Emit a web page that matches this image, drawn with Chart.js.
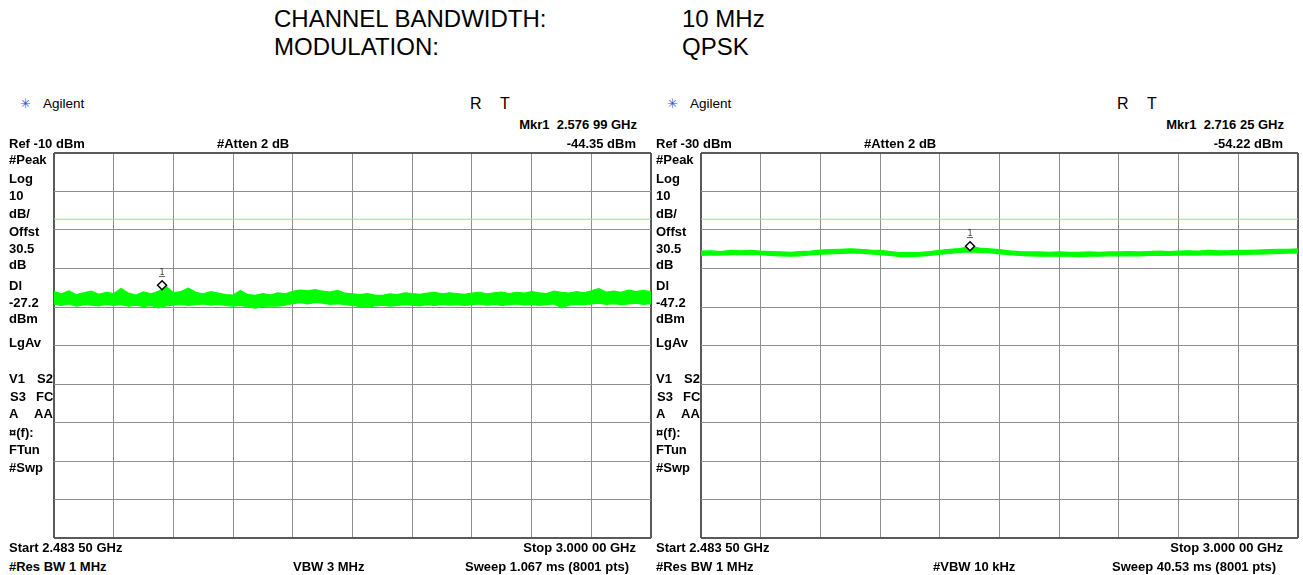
<!DOCTYPE html>
<html>
<head>
<meta charset="utf-8">
<script src="https://cdn.jsdelivr.net/npm/chart.js@4/dist/chart.umd.min.js"></script>
<style>
  html, body { margin: 0; padding: 0; background: #fff; }
  #page { position: relative; width: 1303px; height: 575px; overflow: hidden; font-family: "Liberation Sans", Arial, sans-serif; }
  .t { position: absolute; white-space: pre; font-weight: bold; font-size: 13px; line-height: 14px; color: #000; }
  .r { text-align: right; }
  .hdr { position: absolute; white-space: pre; font-size: 24px; line-height: 26px; color: #000; }
  .brand { position: absolute; white-space: pre; font-size: 13.5px; line-height: 14px; color: #000; }
  .star { position: absolute; font-family: "DejaVu Sans", sans-serif; font-size: 13px; line-height: 14px; color: #2f56d8; }
  .rt { position: absolute; white-space: pre; font-size: 16px; line-height: 16px; color: #000; }
  canvas { position: absolute; }
</style>
</head>
<body>
<div id="page">
  <div class="hdr" style="left:274px;top:6px">CHANNEL BANDWIDTH:</div>
  <div class="hdr" style="left:682px;top:6px">10 MHz</div>
  <div class="hdr" style="left:274px;top:34px">MODULATION:</div>
  <div class="hdr" style="left:682px;top:34px">QPSK</div>
  <canvas id="left" width="604" height="391" style="left:50px;top:150px"></canvas>
  <canvas id="right" width="604" height="391" style="left:697px;top:150px"></canvas>
</div>
<script>
"use strict";

// sweep settings, both screens
const START_GHZ = 2.4835;
const STOP_GHZ = 3.0;

// left screen: VBW 3 MHz, noisy trace (upper / lower edges of the trace band, dBm)
const leftRef = -10;
const leftDisplayLine = -27.2;
const leftMarker = { f: 2.57699, v: -44.35 };
const leftUpper = [
  -46.0, -46.6, -45.8, -46.8, -46.3, -45.9, -46.7, -46.2,
  -46.5, -45.2, -46.4, -46.9, -46.1, -46.6, -45.9, -44.6,
  -46.3, -46.0, -45.1, -46.2, -46.6, -46.0, -46.4, -46.8,
  -46.9, -45.7, -46.8, -47.0, -46.5, -46.9, -46.3, -46.6,
  -45.9, -45.6, -45.8, -45.5, -45.9, -46.1, -45.7, -46.4,
  -46.6, -46.8, -46.5, -46.9, -47.0, -46.6, -46.8, -46.3,
  -46.5, -46.7, -46.4, -46.2, -46.6, -46.3, -46.5, -46.7,
  -46.4, -46.2, -46.6, -46.3, -46.1, -46.5, -46.2, -46.4,
  -46.0, -46.3, -46.5, -45.9, -46.2, -46.4, -46.0, -46.3,
  -45.8, -45.2, -46.1, -45.9, -46.2, -45.6, -46.0, -45.7, -46.1,
];
const leftLower = [
  -49.3, -49.6, -49.2, -49.8, -49.4, -49.5, -49.7, -49.3,
  -49.6, -49.4, -49.8, -49.5, -49.9, -49.6, -50.2, -49.7,
  -49.5, -49.3, -49.6, -49.4, -49.2, -49.5, -49.3, -49.6,
  -49.8, -49.6, -50.0, -50.3, -49.9, -49.7, -49.8, -49.5,
  -49.1, -48.9, -49.2, -48.8, -49.0, -49.3, -49.1, -49.4,
  -49.6, -49.9, -50.1, -49.7, -49.5, -49.8, -49.6, -49.4,
  -49.5, -49.7, -49.4, -49.6, -49.3, -49.5, -49.4, -49.6,
  -49.4, -49.2, -49.5, -49.3, -49.6, -49.4, -49.2, -49.5,
  -49.3, -49.6, -49.4, -49.2, -50.2, -49.5, -49.3, -49.4,
  -49.2, -49.0, -49.3, -49.1, -49.4, -49.2, -49.0, -49.3, -49.1,
];

// right screen: VBW 10 kHz, smooth trace
const rightRef = -30;
const rightDisplayLine = -47.2;
const rightMarker = { f: 2.71625, v: -54.22 };
const rightUpper = [
  -55.5, -55.4, -55.6, -55.3, -55.4, -55.3, -55.5, -55.6, -55.7, -55.8,
  -55.6, -55.5, -55.2, -55.1, -55.0, -54.9, -55.0, -55.2, -55.3, -55.6,
  -55.9, -55.9, -55.8, -55.6, -55.3, -55.0, -54.8, -54.3, -54.7, -54.9,
  -55.1, -55.4, -55.6, -55.7, -55.7, -55.8, -55.7, -55.8, -55.8, -55.7,
  -55.8, -55.7, -55.7, -55.6, -55.7, -55.6, -55.5, -55.6, -55.5, -55.4,
  -55.5, -55.3, -55.4, -55.4, -55.3, -55.3, -55.2, -55.1, -55.0, -55.0, -54.9,
];
const rightLower = [
  -56.6, -56.5, -56.5, -56.4, -56.4, -56.4, -56.4, -56.6, -56.7, -56.8,
  -56.7, -56.5, -56.3, -56.2, -56.1, -56.0, -56.0, -56.2, -56.4, -56.6,
  -56.9, -56.9, -56.8, -56.6, -56.3, -56.1, -55.8, -55.7, -55.8, -55.9,
  -56.2, -56.4, -56.6, -56.7, -56.8, -56.8, -56.8, -56.8, -56.9, -56.8,
  -56.8, -56.7, -56.7, -56.7, -56.7, -56.6, -56.6, -56.6, -56.5, -56.5,
  -56.5, -56.4, -56.5, -56.4, -56.4, -56.3, -56.3, -56.2, -56.1, -56.0, -56.0,
];

// instrument annotation text, per screen
const leftText = {
  ref: "Ref -10 dBm", mkr: "Mkr1  2.576 99 GHz", mkrVal: "-44.35 dBm",
  dl: "-27.2", vbw: "VBW 3 MHz", sweep: "Sweep 1.067 ms (8001 pts)",
};
const rightText = {
  ref: "Ref -30 dBm", mkr: "Mkr1  2.716 25 GHz", mkrVal: "-54.22 dBm",
  dl: "-47.2", vbw: "#VBW 10 kHz", sweep: "Sweep 40.53 ms (8001 pts)",
};

const page = document.getElementById("page");

const put = (cls, text, x, y) => {
  const el = document.createElement("div");
  el.className = cls;
  el.textContent = text;
  el.style.left = `${x}px`;
  el.style.top = `${y}px`;
  page.appendChild(el);
  return el;
};

const putRight = (text, right, y) => {
  const el = put("t r", text, 0, y);
  el.style.left = "";
  el.style.right = `${1303 - right}px`;
};

const drawAnnotations = (dx, txt) => {
  put("star", "\u2733", 20 + dx, 97);
  put("brand", "Agilent", 43 + dx, 97);
  put("rt", "R", 470 + dx, 96);
  put("rt", "T", 500 + dx, 96);
  putRight(txt.mkr, 637 + dx, 118);
  put("t", txt.ref, 9 + dx, 137);
  put("t", "#Atten 2 dB", 217 + dx, 137);
  putRight(txt.mkrVal, 636 + dx, 137);

  const side = [
    ["#Peak", 160], ["Log", 179], ["10", 196], ["dB/", 214], ["Offst", 232],
    ["30.5", 249], ["dB", 265], ["Dl", 286], [txt.dl, 303], ["dBm", 319],
    ["LgAv", 343], ["\u00a4(f):", 433], ["FTun", 450], ["#Swp", 468],
  ];
  side.forEach(([s, cy]) => put("t", s, 9 + dx, cy - 7));
  put("t", "V1", 9 + dx, 372);
  put("t", "S2", 37 + dx, 372);
  put("t", "S3", 10 + dx, 390);
  put("t", "FC", 36 + dx, 390);
  put("t", "A", 9 + dx, 407);
  put("t", "AA", 34 + dx, 407);

  put("t", "Start 2.483 50 GHz", 9 + dx, 541);
  putRight("Stop 3.000 00 GHz", 636 + dx, 541);
  put("t", "#Res BW 1 MHz", 9 + dx, 560);
  put("t", txt.vbw, 293 + dx - (txt.vbw.startsWith("#") ? 7 : 0), 560);
  put("t", txt.sweep, 465 + dx, 560);
};

// marker number above the diamond
const markerLabel = {
  id: "markerLabel",
  afterDatasetsDraw(chart) {
    const pt = chart.getDatasetMeta(3).data[0];
    if (!pt) return;
    const { ctx } = chart;
    ctx.save();
    ctx.fillStyle = "#333";
    ctx.font = "8px 'DejaVu Sans', sans-serif";
    ctx.textAlign = "center";
    ctx.fillText("1", pt.x, pt.y - 10);
    ctx.fillRect(pt.x - 3, pt.y - 9, 6, 0.8);
    ctx.restore();
  },
};

const edgeColor = (c) =>
  c.index === 0 || c.index === 10 ? "#5a5a5a" : "#8e8e8e";
const edgeWidth = (c) => (c.index === 0 || c.index === 10 ? 2 : 1);

const makeScreen = (id, ref, upper, lower, displayLine, marker) => {
  const stepU = (STOP_GHZ - START_GHZ) / (upper.length - 1);
  const stepL = (STOP_GHZ - START_GHZ) / (lower.length - 1);
  const canvas = document.getElementById(id);

  return new Chart(canvas, {
    type: "line",
    data: {
      datasets: [
        {
          data: upper.map((v, i) => ({ x: START_GHZ + i * stepU, y: v })),
          borderColor: "#00ff00",
          backgroundColor: "#00ff00",
          borderWidth: 1.2,
          pointRadius: 0,
          fill: "+1",
          order: 2,
        },
        {
          data: lower.map((v, i) => ({ x: START_GHZ + i * stepL, y: v })),
          borderColor: "#00ff00",
          borderWidth: 1.2,
          pointRadius: 0,
          fill: false,
          order: 2,
        },
        {
          data: [
            { x: START_GHZ, y: displayLine },
            { x: STOP_GHZ, y: displayLine },
          ],
          borderColor: "#8fe38f",
          borderWidth: 1,
          pointRadius: 0,
          fill: false,
          order: 3,
        },
        {
          data: [{ x: marker.f, y: marker.v }],
          showLine: false,
          pointStyle: "rectRot",
          pointRadius: 4.5,
          borderColor: "#000",
          borderWidth: 1.5,
          backgroundColor: "#fff",
          order: 0,
        },
      ],
    },
    options: {
      responsive: false,
      animation: false,
      events: [],
      // grid box is fixed: 54..651 x 153..538 on the page (left screen)
      layout: { autoPadding: false, padding: { left: 4, right: 3, top: 3, bottom: 3 } },
      elements: { line: { tension: 0 } },
      plugins: { legend: { display: false }, tooltip: { enabled: false } },
      scales: {
        x: {
          type: "linear",
          min: START_GHZ,
          max: STOP_GHZ,
          afterBuildTicks: (scale) => {
            scale.ticks = [...Array(11).keys()].map((k) => ({
              value: START_GHZ + (k * (STOP_GHZ - START_GHZ)) / 10,
            }));
          },
          ticks: { display: false },
          grid: { drawTicks: false, color: edgeColor, lineWidth: edgeWidth },
          border: { display: false },
        },
        y: {
          type: "linear",
          min: ref - 100,
          max: ref,
          afterBuildTicks: (scale) => {
            scale.ticks = [...Array(11).keys()].map((k) => ({
              value: ref - 100 + k * 10,
            }));
          },
          ticks: { display: false },
          grid: { drawTicks: false, color: edgeColor, lineWidth: edgeWidth },
          border: { display: false },
        },
      },
    },
    plugins: [markerLabel],
  });
};

drawAnnotations(0, leftText);
drawAnnotations(647, rightText);
makeScreen("left", leftRef, leftUpper, leftLower, leftDisplayLine, leftMarker);
makeScreen("right", rightRef, rightUpper, rightLower, rightDisplayLine, rightMarker);
</script>
</body>
</html>
